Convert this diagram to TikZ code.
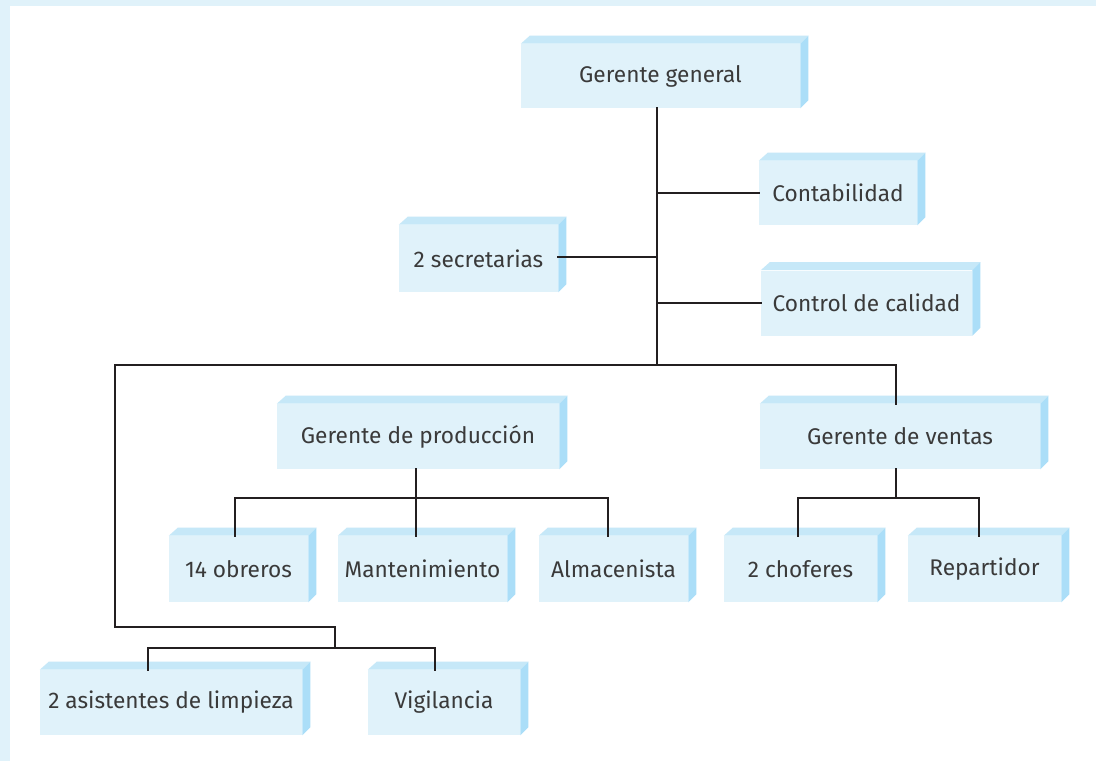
\documentclass[tikz,border=0pt]{standalone}
\usepackage{fontspec}
\setmainfont{Fira Sans}
\definecolor{frontc}{HTML}{E0F2FA}
\definecolor{topc}{HTML}{C6E8F8}
\definecolor{sidec}{HTML}{ABDEF8}
\definecolor{bandc}{HTML}{E0F2FA}
\definecolor{linec}{HTML}{231F20}
\definecolor{textc}{HTML}{3A3A3A}
\begin{document}
\begin{tikzpicture}[x=0.75pt,y=-0.75pt,
  caja/.style={fill=frontc, inner sep=0pt, text=textc, font=\fontsize{17}{20}\selectfont, minimum height=48.75pt},
  linea/.style={draw=linec, line width=1.4pt, line cap=rect},
  topface/.style={fill=topc},
  sideface/.style={fill=sidec}]
\useasboundingbox (0,0) rectangle (1096,761);
\fill[white] (0,0) rectangle (1096,761);
\fill[bandc] (0,0) rectangle (1096,6);
\fill[bandc] (0,0) rectangle (10,761);

% boxes
\node[caja, minimum width=209.25pt, minimum height=48pt] (gg) at (660.5,76) {Gerente general};
\node[caja, minimum width=118.5pt, minimum height=48pt] (cont) at (838,193) {Contabilidad};
\node[caja, minimum width=119.25pt, minimum height=50.25pt] (sec) at (478.5,258.5) {2 secretarias};
\node[caja, minimum width=158.25pt] (cc) at (866.5,303) {Control de calidad};
\node[caja, minimum width=211.5pt] (gp) at (418,436.5) {Gerente de producción};
\node[caja, minimum width=210pt] (gv) at (900,436.5) {Gerente de ventas};
\node[caja, minimum width=104.25pt, minimum height=49.5pt] (obr) at (238.5,569) {14 obreros};
\node[caja, minimum width=126.75pt, minimum height=49.5pt] (mant) at (422.5,569) {Mantenimiento};
\node[caja, minimum width=111.75pt, minimum height=49.5pt] (alm) at (613.5,569) {Almacenista};
\node[caja, minimum width=114.75pt, minimum height=49.5pt] (chof) at (800.5,569) {2 choferes};
\node[caja, minimum width=114.75pt, minimum height=49.5pt] (rep) at (984.5,569) {Repartidor};
\node[caja, minimum width=196.5pt] (asis) at (171,702.5) {2 asistentes de limpieza};
\node[caja, minimum width=114pt] (vig) at (444,702.5) {Vigilancia};

% 3D faces
\foreach \n in {gg,cont,sec,cc,gp,gv,obr,mant,alm,chof,rep,asis,vig}{
  \fill[topface] (\n.north west) -- ++(9,-8) -- ([shift={(8,-8)}]\n.north east) -- (\n.north east) -- cycle;
  \fill[sideface] (\n.north east) -- ++(8,-8) -- ([shift={(8,-8)}]\n.south east) -- (\n.south east) -- cycle;
}

% junction coordinates
\coordinate (jt) at (657,365);
\coordinate (js) at (657,257);
\coordinate (jl) at (115,365);
\coordinate (jr) at (896,365);
\coordinate (jlb) at (115,627);
\coordinate (jmb) at (335,627);
\coordinate (jbb) at (335,648);
\coordinate (jba) at (148,648);
\coordinate (jbv) at (435,648);
\coordinate (jp) at (416,498);
\coordinate (jpo) at (235,498);
\coordinate (jpa) at (608,498);
\coordinate (jv) at (896,498);
\coordinate (jvc) at (798,498);
\coordinate (jvr) at (979,498);

% connectors
\draw[linea] (gg.south -| jt) -- (jt);
\draw[linea] (cont.west -| jt) -- (cont.west);
\draw[linea] (sec.east |- js) -- (js);
\draw[linea] (cc.west -| jt) -- (cc.west);
\draw[linea] (jl) -- (jr);
\draw[linea] (jr) -- (gv.north -| jr);
\draw[linea] (jl) -- (jlb) -- (jmb) -- (jbb);
\draw[linea] (jba) -- (jbv);
\draw[linea] (jba) -- (asis.north -| jba);
\draw[linea] (jbv) -- (vig.north -| jbv);
\draw[linea] (gp.south -| jp) -- (jp);
\draw[linea] (jpo) -- (jpa);
\draw[linea] (jpo) -- (obr.north -| jpo);
\draw[linea] (jp) -- (mant.north -| jp);
\draw[linea] (jpa) -- (alm.north -| jpa);
\draw[linea] (gv.south -| jv) -- (jv);
\draw[linea] (jvc) -- (jvr);
\draw[linea] (jvc) -- (chof.north -| jvc);
\draw[linea] (jvr) -- (rep.north -| jvr);
\end{tikzpicture}
\end{document}
